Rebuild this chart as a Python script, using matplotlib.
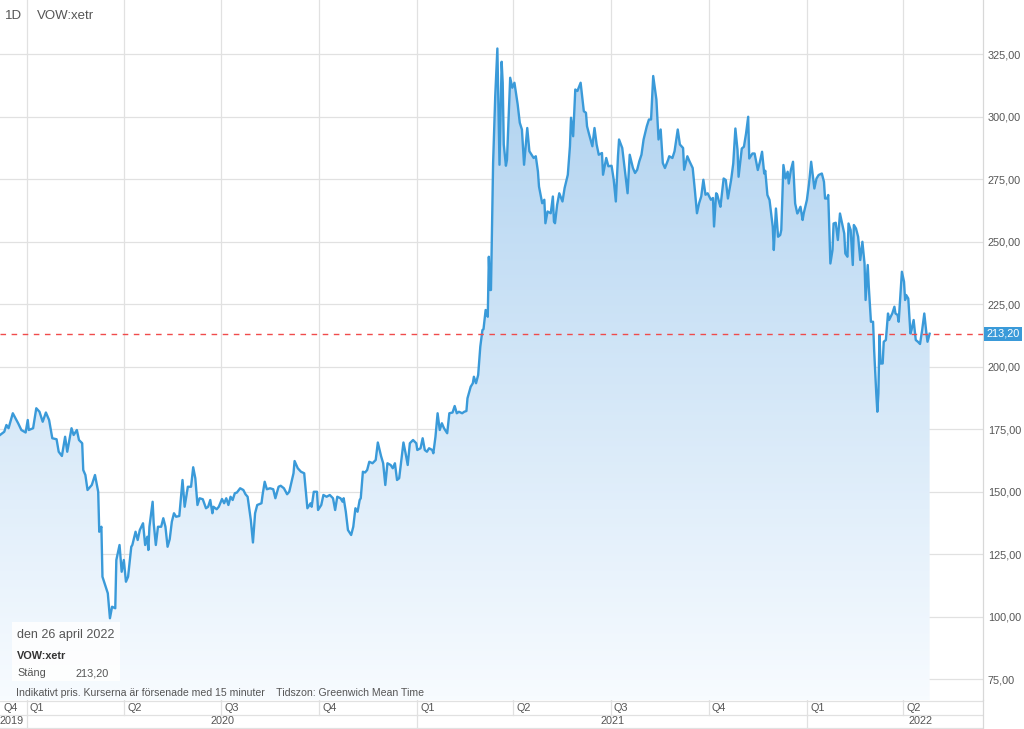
import numpy as np
import pandas as pd
import matplotlib
matplotlib.use('Agg')
import matplotlib.pyplot as plt
from matplotlib.patches import Rectangle

plt.rcParams['font.family'] = ['Liberation Sans', 'DejaVu Sans']

# daily close of VOW:xetr, days counted from 2020-01-01
start = pd.Timestamp('2020-01-01')
day_offsets = [
    -25, -21, -19, -17, -13, -8, -5, -1, 1, 2, 6, 9, 12, 15, 18, 21, 24, 28, 30, 33,
    36, 38, 42, 44, 47, 49, 52, 53, 55, 57, 61, 64, 67, 68, 70, 71, 74, 76, 78, 80,
    83, 84, 87, 89, 91, 93, 95, 98, 99, 102, 104, 106, 109, 111, 113, 114, 115, 118, 119, 121,
    123, 126, 128, 130, 132, 134, 136, 138, 140, 143, 146, 148, 151, 154, 156, 158, 160, 162, 165, 168,
    170, 172, 174, 175, 178, 180, 183, 185, 187, 189, 191, 193, 195, 197, 200, 203, 205, 207, 210, 212,
    214, 216, 220, 221, 223, 225, 228, 231, 233, 236, 238, 241, 244, 246, 250, 251, 254, 257, 260, 263,
    266, 267, 269, 272, 273, 276, 278, 281, 284, 287, 289, 291, 294, 296, 297, 299, 301, 304, 306, 308,
    310, 312, 313, 315, 317, 319, 321, 324, 327, 329, 332, 334, 336, 338, 341, 343, 345, 347, 349, 353,
    355, 357, 359, 362, 365, 366, 369, 371, 373, 375, 377, 380, 381, 383, 385, 387, 389, 391, 394, 396,
    399, 401, 403, 405, 408, 410, 412, 413, 416, 418, 419, 421, 423, 425, 427, 428, 430, 432, 433, 434,
    435, 437, 439, 441, 443, 445, 446, 447, 449, 450, 453, 455, 457, 460, 462, 464, 466, 469, 471, 475,
    477, 479, 480, 483, 485, 486, 488, 491, 493, 494, 495, 497, 499, 502, 504, 507, 509, 510, 512, 514,
    516, 519, 522, 524, 525, 527, 530, 532, 534, 536, 539, 540, 543, 545, 548, 550, 552, 554, 555, 558,
    560, 563, 565, 568, 570, 572, 574, 576, 578, 581, 583, 585, 587, 590, 592, 594, 596, 598, 601, 602,
    605, 607, 610, 612, 615, 616, 619, 621, 624, 626, 628, 630, 632, 634, 636, 638, 641, 643, 644, 646,
    647, 649, 650, 653, 655, 657, 660, 662, 664, 666, 667, 670, 672, 674, 676, 677, 680, 682, 685, 687,
    689, 691, 692, 694, 696, 699, 700, 702, 704, 706, 707, 709, 711, 713, 714, 716, 718, 720, 722, 723,
    725, 727, 728, 731, 733, 735, 737, 738, 740, 742, 745, 747, 748, 750, 751, 752, 753, 755, 756, 758,
    760, 762, 764, 766, 767, 769, 770, 772, 774, 775, 777, 779, 781, 783, 785, 786, 788, 789, 791, 793,
    794, 796, 797, 798, 799, 800, 802, 803, 805, 807, 808, 811, 813, 814, 816, 817, 820, 822, 823, 824,
    826, 828, 829, 831, 833, 835, 837, 839, 841, 843, 844, 846,
]
close = [
    172.7, 174.0, 176.7, 175.4, 181.4, 177.4, 174.7, 173.7, 178.7, 174.7, 175.4, 183.4, 182.0, 178.0, 181.7, 178.7, 171.4, 171.0, 166.0, 164.3,
    172.0, 166.0, 175.4, 172.7, 174.7, 170.7, 169.4, 158.7, 156.7, 150.7, 152.7, 156.7, 150.0, 134.0, 136.0, 116.0, 112.0, 109.4, 99.4, 104.0,
    103.4, 122.7, 128.7, 118.0, 122.7, 114.0, 116.0, 128.0, 128.7, 134.0, 130.7, 134.7, 137.4, 128.7, 132.0, 126.7, 136.0, 146.0, 137.4, 128.7,
    136.0, 136.0, 139.4, 136.0, 128.0, 131.0, 138.0, 141.4, 140.0, 140.3, 154.7, 144.0, 152.0, 152.0, 159.8, 155.4, 144.7, 147.4, 147.0, 143.4,
    144.0, 146.7, 141.4, 144.0, 143.0, 144.0, 147.1, 145.4, 147.4, 144.7, 148.0, 146.7, 149.4, 149.7, 151.4, 150.7, 149.0, 148.0, 138.7, 129.7,
    141.4, 144.7, 145.4, 148.7, 154.0, 151.0, 151.4, 151.0, 147.4, 152.0, 152.4, 151.4, 149.0, 150.0, 157.4, 162.3, 159.4, 158.0, 157.4, 143.4,
    145.4, 144.0, 150.0, 150.0, 142.7, 144.7, 148.7, 148.0, 148.7, 147.4, 142.7, 148.0, 147.4, 146.0, 147.4, 142.0, 134.7, 132.7, 136.0, 143.4,
    142.0, 146.7, 147.4, 158.0, 157.7, 158.7, 162.0, 161.4, 162.7, 169.7, 164.3, 161.4, 152.7, 161.4, 160.7, 159.4, 161.4, 154.7, 155.4, 169.7,
    165.4, 160.7, 169.4, 170.7, 169.4, 166.7, 167.4, 171.4, 166.7, 166.0, 167.4, 166.7, 165.4, 172.0, 181.4, 174.7, 177.4, 175.4, 173.4, 181.4,
    181.7, 184.3, 181.4, 182.0, 181.4, 182.0, 182.3, 187.4, 192.0, 193.4, 196.0, 193.4, 196.7, 208.0, 214.7, 215.0, 222.7, 220.0, 244.0, 230.7,
    230.7, 281.5, 308.3, 327.3, 280.8, 322.0, 313.6, 288.9, 280.4, 282.8, 315.6, 311.6, 313.6, 305.0, 297.6, 294.9, 280.8, 295.5, 286.2, 283.5,
    284.2, 278.1, 272.1, 265.4, 266.8, 257.4, 262.1, 261.4, 268.1, 258.1, 257.4, 264.8, 269.4, 266.1, 271.5, 276.8, 288.2, 299.6, 292.2, 310.9,
    310.3, 313.6, 302.2, 301.6, 296.2, 292.9, 288.2, 295.5, 288.9, 284.8, 285.5, 276.8, 283.5, 280.2, 280.4, 274.8, 266.1, 284.2, 290.9, 287.5,
    280.2, 269.4, 284.8, 279.5, 277.5, 278.8, 282.2, 284.8, 290.9, 296.2, 298.9, 298.9, 316.3, 306.9, 290.9, 294.9, 281.5, 279.5, 282.8, 284.2,
    283.5, 286.2, 294.9, 288.9, 287.5, 278.8, 284.2, 282.2, 279.5, 270.8, 261.4, 265.4, 268.1, 274.8, 268.8, 269.4, 266.8, 267.5, 256.1, 269.4,
    268.8, 265.4, 264.0, 275.3, 274.7, 267.3, 274.7, 281.3, 295.3, 286.7, 276.0, 287.3, 288.0, 293.3, 300.0, 283.3, 285.3, 285.3, 278.7, 282.0,
    286.0, 277.3, 278.4, 268.7, 266.7, 256.0, 246.7, 263.3, 252.0, 252.7, 254.7, 280.7, 275.3, 278.0, 273.3, 278.7, 282.0, 265.3, 261.3, 262.0,
    264.0, 258.7, 261.3, 266.7, 273.3, 282.0, 274.7, 271.3, 275.3, 276.7, 277.3, 274.0, 267.3, 267.3, 268.7, 255.3, 241.3, 246.7, 257.3, 257.6,
    250.7, 261.3, 257.3, 253.3, 245.3, 244.0, 257.3, 254.7, 240.7, 256.7, 255.3, 252.0, 242.7, 250.0, 241.3, 226.7, 240.7, 232.0, 218.0, 218.0,
    206.7, 189.3, 182.0, 189.3, 212.7, 201.3, 201.3, 210.0, 210.7, 221.3, 218.7, 221.3, 224.0, 221.3, 220.7, 218.0, 238.0, 234.0, 226.7, 228.7,
    227.3, 213.3, 214.7, 218.7, 210.7, 210.0, 209.1, 214.7, 221.3, 213.3, 210.0, 213.2,
]
last_close = 213.20
price_ticks = [75, 100, 125, 150, 175, 200, 225, 250, 275, 300, 325]
quarter_starts = ['2019-10-01', '2020-01-01', '2020-04-01', '2020-07-01', '2020-10-01',
                  '2021-01-01', '2021-04-01', '2021-07-01', '2021-10-01', '2022-01-01', '2022-04-01']
quarter_names = ['Q4', 'Q1', 'Q2', 'Q3', 'Q4', 'Q1', 'Q2', 'Q3', 'Q4', 'Q1', 'Q2']
year_starts = ['2020-01-01', '2021-01-01', '2022-01-01']
year_labels = ['2019', '2020', '2021', '2022']

dates = start + pd.to_timedelta(day_offsets, unit='D')
qdates = pd.to_datetime(quarter_starts)
ydates = pd.to_datetime(year_starts)

W, H = 1024, 729
line_c = '#3a9ad9'
grid_c = '#e1e1e1'
text_c = '#555555'
xmin, xmax = pd.Timestamp('2019-12-07'), pd.Timestamp('2022-06-15')

fig = plt.figure(figsize=(W / 100, H / 100), dpi=100)
ax = fig.add_axes([0, 29 / H, 983 / W, 700 / H])
ax.set_xlim(xmin, xmax)
ax.set_ylim(66.7, 346.7)

# gradient fill under the line
fill = ax.fill_between(dates, close, 0, facecolor='none', edgecolor='none')
grad = np.linspace(0, 1, 256).reshape(-1, 1)
top = np.array([0.68, 0.82, 0.94])
bot = np.array([0.97, 0.985, 1.0])
img = top * (1 - grad[..., None]) + bot * grad[..., None]
im = ax.imshow(img, extent=[matplotlib.dates.date2num(xmin), matplotlib.dates.date2num(xmax), 66.7, 330],
               aspect='auto', zorder=1, interpolation='bilinear')
im.set_clip_path(fill.get_paths()[0], transform=ax.transData)
ax.set_xlim(xmin, xmax)
ax.set_ylim(66.7, 346.7)

ax.plot(dates, close, color=line_c, lw=1.7, zorder=3)

for v in price_ticks:
    ax.axhline(v, color=grid_c, lw=0.9, zorder=0)
for d in qdates:
    ax.axvline(d, color=grid_c, lw=0.9, zorder=0)
ax.axhline(last_close, color='#f04b4b', lw=1, dashes=(4, 4), zorder=4)

ax.yaxis.tick_right()
ax.set_yticks(price_ticks)
ax.set_yticklabels([f'{v},00' for v in price_ticks])
ax.tick_params(axis='y', length=0, pad=3.5, labelsize=7.8, labelcolor=text_c)
ax.set_xticks([])
for s in ['top', 'left', 'bottom']:
    ax.spines[s].set_visible(False)
ax.spines['right'].set_color('#d8d8d8')
ax.spines['right'].set_linewidth(0.9)

ax.annotate(f'{last_close:.2f}'.replace('.', ','), xy=(1, last_close),
            xycoords=('axes fraction', 'data'), xytext=(2.5, 0), textcoords='offset points',
            ha='left', va='center', fontsize=7.8, color='white',
            bbox=dict(boxstyle='square,pad=0.2', fc=line_c, ec='none'))

# bottom period bands
bx = fig.add_axes([0, 0, 983 / W, 29 / H])
bx.set_xlim(xmin, xmax)
bx.set_ylim(0, 29)
bx.axis('off')
for yy in [28.5, 14, 1]:
    bx.axhline(yy, color=grid_c, lw=0.9)
for d in qdates[1:]:
    bx.plot([d, d], [14, 29], color=grid_c, lw=0.9)
for d in ydates:
    bx.plot([d, d], [1, 14], color=grid_c, lw=0.9)
bx.plot([xmax, xmax], [1, 29], color='#d8d8d8', lw=0.9, clip_on=False)
for d, n in zip(qdates, quarter_names):
    bx.text(max(d, xmin) + pd.Timedelta(days=3), 21, n, fontsize=7.8, color=text_c, va='center')
year_mid = [xmin, ydates[0] + (ydates[1] - ydates[0]) / 2, ydates[1] + (ydates[2] - ydates[1]) / 2,
            ydates[2] + pd.Timedelta(days=106)]
for i, (d, n) in enumerate(zip(year_mid, year_labels)):
    bx.text(d, 7.5, n, fontsize=7.8, color=text_c, va='center', ha='left' if i == 0 else 'center')

# header and notes
fig.text(5 / W, 1 - 16 / H, '1D', fontsize=9.5, color=text_c, va='center')
fig.text(37 / W, 1 - 16 / H, 'VOW:xetr', fontsize=9.5, color=text_c, va='center')
fig.patches.append(Rectangle((12 / W, 1 - 681 / H), 108 / W, 59 / H, transform=fig.transFigure,
                             fc='white', ec='none', alpha=0.85, zorder=5))
fig.text(17 / W, 1 - 635 / H, 'den 26 april 2022', fontsize=9, color=text_c, va='center', zorder=6)
fig.text(17 / W, 1 - 656 / H, 'VOW:xetr', fontsize=7.8, color='#333333', weight='bold', va='center', zorder=6)
fig.text(17 / W, 1 - 673 / H, 'Stäng', fontsize=7.8, color=text_c, va='center', zorder=6)
fig.text(76 / W, 1 - 673 / H, '213,20', fontsize=7.8, color=text_c, va='center', zorder=6)
fig.text(16 / W, 1 - 693 / H,
         'Indikativt pris. Kurserna är försenade med 15 minuter    Tidszon: Greenwich Mean Time',
         fontsize=7.6, color=text_c, va='center', zorder=6)

fig.savefig('out.png', dpi=100, facecolor='white')
